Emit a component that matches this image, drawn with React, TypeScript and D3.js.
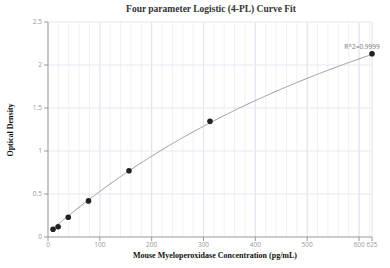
import * as d3 from "d3";

// standard dilution series and measured optical density
const concentrations = [9.77, 19.53, 39.06, 78.13, 156.25, 312.5, 625];
const opticalDensity = [0.09, 0.12, 0.23, 0.42, 0.77, 1.345, 2.13];

// fitted 4PL parameters: y = D + (A - D) / (1 + (x / C)^B)
const fitA = 0.05;
const fitB = 1.02;
const fitC = 950;
const fitD = 5.3;

const xTicks = [0, 100, 200, 300, 400, 500, 600, 625];
const yTicks = [0, 0.5, 1, 1.5, 2, 2.5];
const xMinorGrid = d3.range(0, 625, 20);

const rSquaredLabel = "R^2=0.9999";

const width = 390,
    height = 268;
const margin = { top: 22, right: 18, bottom: 31, left: 48 };

const serif = "'Liberation Serif', 'Times New Roman', serif";
const sans = "'Open Sans', 'DejaVu Sans', sans-serif";

export default function App() {
    const x = d3.scaleLinear().domain([0, 625]).range([margin.left, width - margin.right]);
    const y = d3.scaleLinear().domain([0, 2.5]).range([height - margin.bottom, margin.top]);

    const fourPL = (c: number) => fitD + (fitA - fitD) / (1 + Math.pow(c / fitC, fitB));
    const curvePts = d3.range(concentrations[0], 625.01, 2).map((c) => [c, fourPL(c)] as [number, number]);
    const line = d3
        .line<[number, number]>()
        .x((d) => x(d[0]))
        .y((d) => y(d[1]))
        .curve(d3.curveLinear);

    const x0 = x(0),
        x1 = x(625),
        yb = y(0),
        yt = y(2.5);

    return (
        <svg width={width} height={height} style={{ position: "absolute", left: 0, top: 0 }}>
            <rect width={width} height={height} fill="#fff" />

            {/* minor vertical grid */}
            {xMinorGrid.map((v) => (
                <line key={"mg" + v} x1={x(v)} x2={x(v)} y1={yt} y2={yb} stroke="#eff1f7" strokeWidth={1} />
            ))}
            {/* major vertical grid */}
            {xTicks.slice(1).map((v) => (
                <line key={"vg" + v} x1={x(v)} x2={x(v)} y1={yt} y2={yb} stroke="#dfe3ee" strokeWidth={1} />
            ))}
            {/* horizontal grid */}
            {yTicks.slice(1).map((v) => (
                <line key={"hg" + v} x1={x0} x2={x1} y1={y(v)} y2={y(v)} stroke="#e6e9f2" strokeWidth={1} />
            ))}

            {/* axes */}
            <line x1={x0} x2={x0} y1={yt} y2={yb} stroke="#999" strokeWidth={1} />
            <line x1={x0} x2={x1} y1={yb} y2={yb} stroke="#999" strokeWidth={1} />
            {yTicks.map((v) => (
                <g key={"yt" + v}>
                    <line x1={x0 - 4} x2={x0} y1={y(v)} y2={y(v)} stroke="#999" />
                    <text x={x0 - 6} y={y(v)} dy="0.32em" textAnchor="end" fontSize={6.5} fill="#999" fontFamily={sans}>
                        {v}
                    </text>
                </g>
            ))}
            {xTicks.map((v) => (
                <g key={"xt" + v}>
                    <line x1={x(v)} x2={x(v)} y1={yb} y2={yb + 4} stroke="#999" />
                    <text x={x(v)} y={yb + 10} textAnchor="middle" fontSize={6.5} fill="#999" fontFamily={sans}>
                        {v}
                    </text>
                </g>
            ))}

            {/* fitted curve */}
            <path d={line(curvePts) || ""} fill="none" stroke="#9a9a9a" strokeWidth={1} />

            {/* points */}
            {concentrations.map((c, i) => (
                <circle key={"p" + i} cx={x(c)} cy={y(opticalDensity[i])} r={2.8} fill="#222" />
            ))}

            <text
                x={x(625) - 10}
                y={y(opticalDensity[6]) - 5}
                textAnchor="middle"
                fontSize={6.5}
                fill="#777"
                fontFamily={sans}
            >
                {rSquaredLabel}
            </text>

            {/* titles */}
            <text x={211} y={11.5} textAnchor="middle" fontSize={9.5} fontWeight="bold" fill="#333" fontFamily={serif}>
                Four parameter Logistic (4-PL) Curve Fit
            </text>
            <text x={215} y={258} textAnchor="middle" fontSize={8} fontWeight="bold" fill="#111" fontFamily={serif}>
                Mouse Myeloperoxidase Concentration (pg/mL)
            </text>
            <text
                transform={`translate(13,130) rotate(-90)`}
                textAnchor="middle"
                fontSize={8}
                fontWeight="bold"
                fill="#111"
                fontFamily={serif}
            >
                Optical Density
            </text>
        </svg>
    );
}
